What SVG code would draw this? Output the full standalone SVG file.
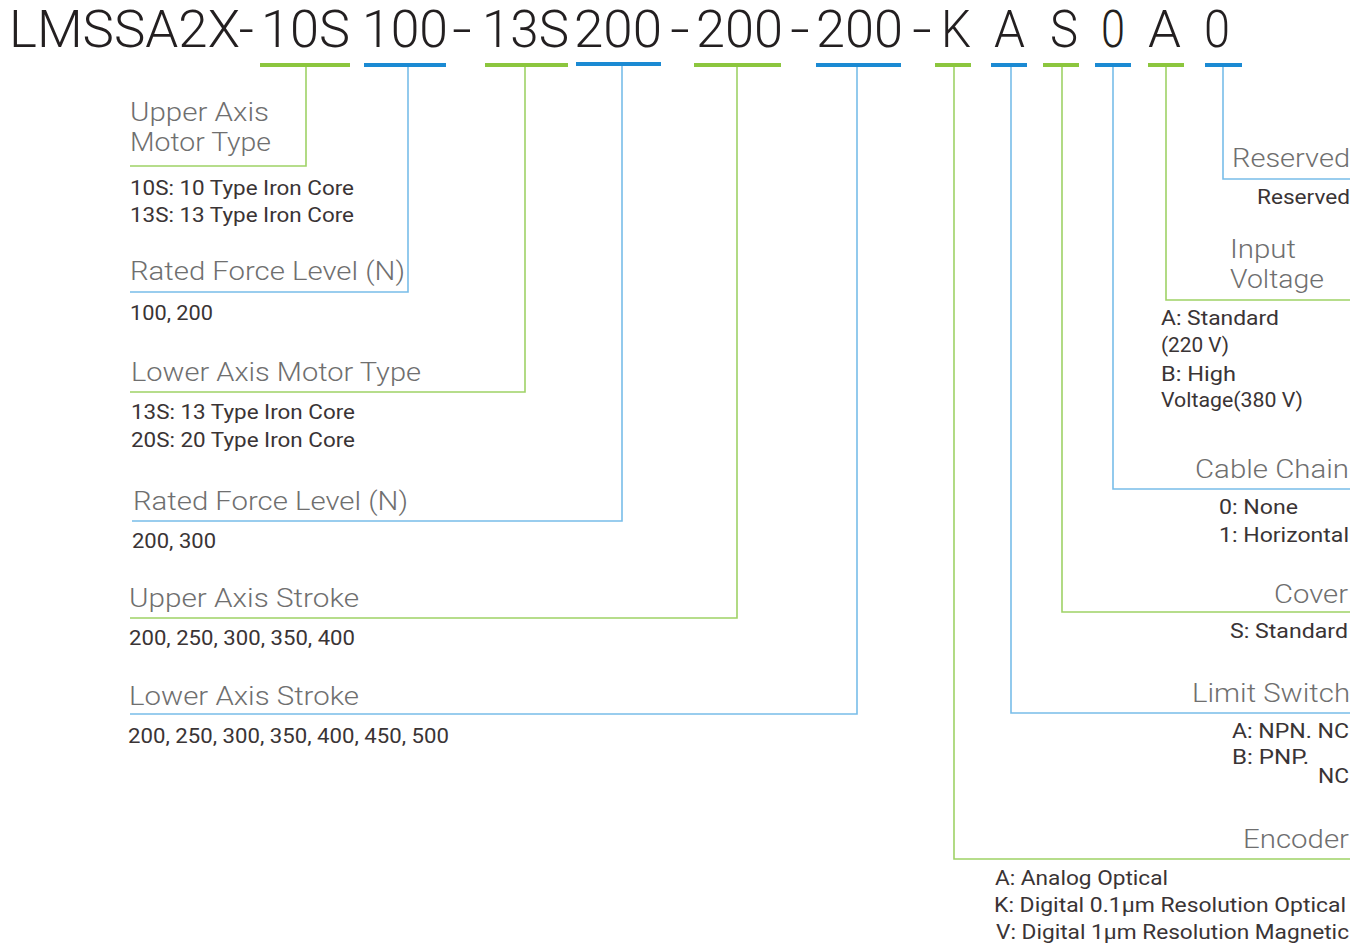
<svg xmlns="http://www.w3.org/2000/svg" width="1368" height="946" viewBox="0 0 1368 946">
<style>
.t{font-family:Roboto,"Liberation Sans",Arial,sans-serif;font-weight:300;font-size:51px;fill:#231f20}
.lb{font-family:Roboto,"Liberation Sans",Arial,sans-serif;font-weight:300;font-size:26px;fill:#6f6f6f}
.v{font-family:Roboto,"Liberation Sans",Arial,sans-serif;font-size:20px;fill:#3a3435}
.bg{fill:#8cc63e}
.bb{fill:#1b8ad3}
.cg{fill:none;stroke:#9fd266;stroke-width:1.6}
.cb{fill:none;stroke:#78bde9;stroke-width:1.6}
</style>
<rect width="1368" height="946" fill="#ffffff"/>
<g id="title">
<text class="t" x="9" y="47" textLength="245" lengthAdjust="spacingAndGlyphs">LMSSA2X-</text>
<text class="t" x="261" y="47" textLength="89" lengthAdjust="spacingAndGlyphs">10S</text>
<text class="t" x="362" y="47" textLength="86" lengthAdjust="spacingAndGlyphs">100</text>
<text class="t" x="452" y="47" textLength="20" lengthAdjust="spacingAndGlyphs">-</text>
<text class="t" x="482" y="47" textLength="87" lengthAdjust="spacingAndGlyphs">13S</text>
<text class="t" x="574" y="47" textLength="88" lengthAdjust="spacingAndGlyphs">200</text>
<text class="t" x="670" y="47" textLength="20" lengthAdjust="spacingAndGlyphs">-</text>
<text class="t" x="696" y="47" textLength="87" lengthAdjust="spacingAndGlyphs">200</text>
<text class="t" x="790" y="47" textLength="20" lengthAdjust="spacingAndGlyphs">-</text>
<text class="t" x="816" y="47" textLength="87" lengthAdjust="spacingAndGlyphs">200</text>
<text class="t" x="912" y="47" textLength="20" lengthAdjust="spacingAndGlyphs">-</text>
<text class="t" x="941" y="47" textLength="30" lengthAdjust="spacingAndGlyphs">K</text>
<text class="t" x="994" y="47" textLength="31" lengthAdjust="spacingAndGlyphs">A</text>
<text class="t" x="1050" y="47" textLength="28" lengthAdjust="spacingAndGlyphs">S</text>
<text class="t" x="1101" y="47" textLength="24" lengthAdjust="spacingAndGlyphs">0</text>
<text class="t" x="1148" y="47" textLength="33" lengthAdjust="spacingAndGlyphs">A</text>
<text class="t" x="1204" y="47" textLength="26" lengthAdjust="spacingAndGlyphs">0</text>
</g>
<g id="bars">
<rect class="bg" x="260" y="63" width="90" height="4"/>
<rect class="bb" x="364" y="63" width="82" height="4"/>
<rect class="bg" x="485" y="63" width="83" height="4"/>
<rect class="bb" x="576" y="62" width="85" height="4"/>
<rect class="bg" x="694" y="63" width="87" height="4"/>
<rect class="bb" x="816" y="63" width="85" height="4"/>
<rect class="bg" x="935" y="63" width="36" height="4"/>
<rect class="bb" x="991" y="63" width="36" height="4"/>
<rect class="bg" x="1043" y="63" width="36" height="4"/>
<rect class="bb" x="1095" y="63" width="36" height="4"/>
<rect class="bg" x="1148" y="63" width="36" height="4"/>
<rect class="bb" x="1205" y="63" width="37" height="4"/>
</g>
<g id="connectors">
<polyline class="cg" points="306,67 306,166 130,166"/>
<polyline class="cb" points="408,67 408,292 130,292"/>
<polyline class="cg" points="525,67 525,392 130,392"/>
<polyline class="cb" points="622,66 622,521 132,521"/>
<polyline class="cg" points="737,67 737,618 130,618"/>
<polyline class="cb" points="857,67 857,714 130,714"/>
<polyline class="cg" points="954,67 954,859 1350,859"/>
<polyline class="cb" points="1011,67 1011,713 1350,713"/>
<polyline class="cg" points="1062,67 1062,612 1350,612"/>
<polyline class="cb" points="1113,67 1113,489 1350,489"/>
<polyline class="cg" points="1166,67 1166,300 1350,300"/>
<polyline class="cb" points="1223,67 1223,179 1350,179"/>
</g>
<g id="upper-axis-motor-type">
<text class="lb" x="130" y="121" textLength="139" lengthAdjust="spacingAndGlyphs">Upper Axis</text>
<text class="lb" x="130" y="151" textLength="141" lengthAdjust="spacingAndGlyphs">Motor Type</text>
<text class="v" x="130" y="195" textLength="224" lengthAdjust="spacingAndGlyphs">10S: 10 Type Iron Core</text>
<text class="v" x="130" y="222" textLength="224" lengthAdjust="spacingAndGlyphs">13S: 13 Type Iron Core</text>
</g>
<g id="upper-rated-force">
<text class="lb" x="130" y="280" textLength="275" lengthAdjust="spacingAndGlyphs">Rated Force Level (N)</text>
<text class="v" x="130" y="320" textLength="83" lengthAdjust="spacingAndGlyphs">100, 200</text>
</g>
<g id="lower-axis-motor-type">
<text class="lb" x="131" y="381" textLength="290" lengthAdjust="spacingAndGlyphs">Lower Axis Motor Type</text>
<text class="v" x="131" y="419" textLength="224" lengthAdjust="spacingAndGlyphs">13S: 13 Type Iron Core</text>
<text class="v" x="131" y="447" textLength="224" lengthAdjust="spacingAndGlyphs">20S: 20 Type Iron Core</text>
</g>
<g id="lower-rated-force">
<text class="lb" x="133" y="510" textLength="275" lengthAdjust="spacingAndGlyphs">Rated Force Level (N)</text>
<text class="v" x="132" y="548" textLength="84" lengthAdjust="spacingAndGlyphs">200, 300</text>
</g>
<g id="upper-axis-stroke">
<text class="lb" x="129" y="607" textLength="230" lengthAdjust="spacingAndGlyphs">Upper Axis Stroke</text>
<text class="v" x="129" y="645" textLength="226" lengthAdjust="spacingAndGlyphs">200, 250, 300, 350, 400</text>
</g>
<g id="lower-axis-stroke">
<text class="lb" x="129" y="705" textLength="230" lengthAdjust="spacingAndGlyphs">Lower Axis Stroke</text>
<text class="v" x="128" y="743" textLength="321" lengthAdjust="spacingAndGlyphs">200, 250, 300, 350, 400, 450, 500</text>
</g>
<g id="reserved">
<text class="lb" x="1232" y="167" textLength="118" lengthAdjust="spacingAndGlyphs">Reserved</text>
<text class="v" x="1257" y="204" textLength="93" lengthAdjust="spacingAndGlyphs">Reserved</text>
</g>
<g id="input-voltage">
<text class="lb" x="1230" y="258" textLength="66" lengthAdjust="spacingAndGlyphs">Input</text>
<text class="lb" x="1230" y="288" textLength="94" lengthAdjust="spacingAndGlyphs">Voltage</text>
<text class="v" x="1161" y="325" textLength="118" lengthAdjust="spacingAndGlyphs">A: Standard</text>
<text class="v" x="1161" y="352" textLength="68" lengthAdjust="spacingAndGlyphs">(220 V)</text>
<text class="v" x="1161" y="381" textLength="75" lengthAdjust="spacingAndGlyphs">B: High</text>
<text class="v" x="1161" y="407" textLength="142" lengthAdjust="spacingAndGlyphs">Voltage(380 V)</text>
</g>
<g id="cable-chain">
<text class="lb" x="1195" y="478" textLength="154" lengthAdjust="spacingAndGlyphs">Cable Chain</text>
<text class="v" x="1219" y="514" textLength="79" lengthAdjust="spacingAndGlyphs">0: None</text>
<text class="v" x="1219" y="542" textLength="130" lengthAdjust="spacingAndGlyphs">1: Horizontal</text>
</g>
<g id="cover">
<text class="lb" x="1274" y="603" textLength="74" lengthAdjust="spacingAndGlyphs">Cover</text>
<text class="v" x="1230" y="638" textLength="118" lengthAdjust="spacingAndGlyphs">S: Standard</text>
</g>
<g id="limit-switch">
<text class="lb" x="1192" y="702" textLength="158" lengthAdjust="spacingAndGlyphs">Limit Switch</text>
<text class="v" x="1232" y="738" textLength="117" lengthAdjust="spacingAndGlyphs">A: NPN. NC</text>
<text class="v" x="1232" y="764" textLength="77" lengthAdjust="spacingAndGlyphs">B: PNP.</text>
<text class="v" x="1318" y="783" textLength="31" lengthAdjust="spacingAndGlyphs">NC</text>
</g>
<g id="encoder">
<text class="lb" x="1243" y="848" textLength="106" lengthAdjust="spacingAndGlyphs">Encoder</text>
<text class="v" x="995" y="885" textLength="173" lengthAdjust="spacingAndGlyphs">A: Analog Optical</text>
<text class="v" x="994" y="912" textLength="352" lengthAdjust="spacingAndGlyphs">K: Digital 0.1μm Resolution Optical</text>
<text class="v" x="996" y="939" textLength="353" lengthAdjust="spacingAndGlyphs">V: Digital 1μm Resolution Magnetic</text>
</g>
</svg>
